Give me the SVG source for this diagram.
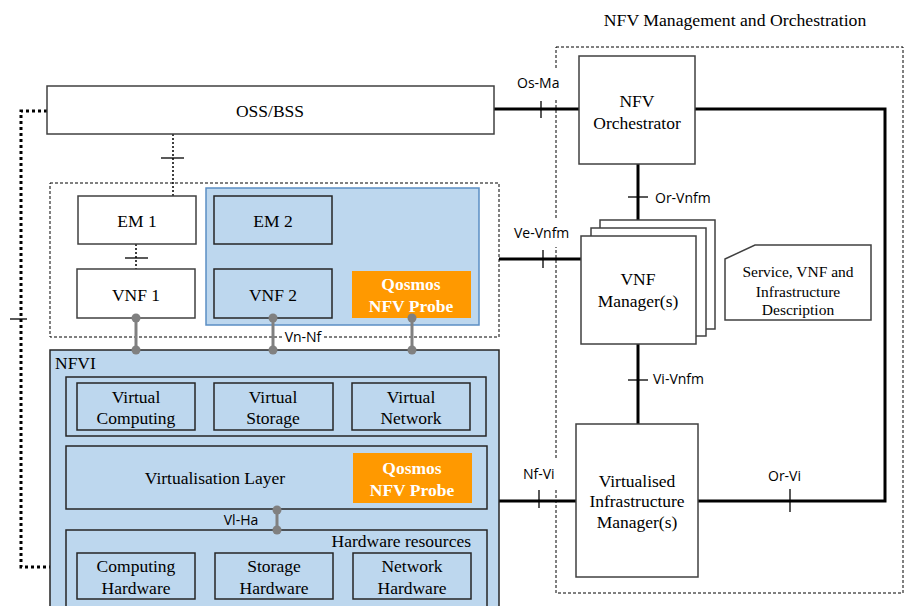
<svg xmlns="http://www.w3.org/2000/svg" width="907" height="606" viewBox="0 0 907 606">
<style>
.box{fill:#fff;stroke:#404040;stroke-width:1.5}
.bbox{fill:#bdd7ee;stroke:#262626;stroke-width:1.5}
.dash{fill:none;stroke:#000;stroke-width:1;stroke-dasharray:3,2}
.t{font-family:'Liberation Serif','Times New Roman',serif;font-size:17.5px;fill:#000;text-anchor:middle}
.d{font-family:'Liberation Serif','Times New Roman',serif;font-size:15.5px;fill:#000;text-anchor:middle}
.q{font-family:'Liberation Serif','Times New Roman',serif;font-size:17.5px;font-weight:bold;fill:#fff;text-anchor:middle}
.l{font-family:'Open Sans','DejaVu Sans',sans-serif;font-size:14px;fill:#000}
.thick{stroke:#000;stroke-width:3;fill:none}
.tick{stroke:#000;stroke-width:1.3}
.dot{stroke:#000;stroke-width:1.5;stroke-dasharray:2,2;fill:none}
.gray{stroke:#808080;stroke-width:3}
.gd{fill:#808080}
.probe{fill:#ff9900}
.bg{fill:#fff}
</style>

<text class="t" x="735" y="25.5" style="font-size:17.7px">NFV Management and Orchestration</text>
<rect class="dash" x="556" y="47" width="347" height="546"/>
<rect class="dash" x="50" y="183" width="449" height="154"/>

<g id="connectors">
  <polyline points="47,111 21,111 21,567 66,567" fill="none" stroke="#000" stroke-width="3" stroke-dasharray="3,3"/>
  <line class="tick" x1="10" y1="319" x2="27" y2="319"/>
  <line class="dot" x1="173" y1="134" x2="173" y2="196"/>
  <line class="tick" x1="161" y1="158" x2="184" y2="158"/>
  <line class="dot" x1="136" y1="244" x2="136" y2="269"/>
  <line class="tick" x1="125" y1="258" x2="148" y2="258"/>
  <line class="dot" x1="273" y1="244" x2="273" y2="269"/>
  <line class="tick" x1="262" y1="258" x2="285" y2="258"/>
  <rect class="bg" x="508" y="69" width="69" height="30"/>
  <text class="l" x="517" y="88">Os-Ma</text>
  <text class="l" x="768" y="480.5">Or-Vi</text>
  <text class="l" x="655" y="202.5">Or-Vnfm</text>
  <rect class="bg" x="508" y="219" width="69" height="28"/>
  <text class="l" x="514" y="238">Ve-Vnfm</text>
  <text class="l" x="653" y="384">Vi-Vnfm</text>
  <rect class="bg" x="513" y="460" width="54" height="28"/>
  <text class="l" x="523" y="479">Nf-Vi</text>
  <line class="thick" x1="494" y1="109" x2="579" y2="109"/>
  <line class="tick" x1="541" y1="101" x2="541" y2="118"/>
  <polyline class="thick" points="695,109 885,109 885,501 698,501"/>
  <line class="tick" x1="790" y1="489" x2="790" y2="512"/>
  <line class="thick" x1="638" y1="164" x2="638" y2="236"/>
  <line class="tick" x1="628" y1="197" x2="648" y2="197"/>
  <line class="thick" x1="499" y1="259" x2="581" y2="259"/>
  <line class="tick" x1="543" y1="250" x2="543" y2="268"/>
  <line class="thick" x1="638" y1="344" x2="638" y2="424"/>
  <line class="tick" x1="628" y1="380" x2="648" y2="380"/>
  <line class="thick" x1="499" y1="501" x2="576" y2="501"/>
  <line class="tick" x1="539" y1="490" x2="539" y2="508"/>
</g>

<g id="oss"><rect class="box" x="47" y="86" width="447" height="48"/><text class="t" x="270" y="117">OSS/BSS</text></g>

<g id="vnf2-region"><rect x="206" y="188" width="273" height="137" fill="#bdd7ee" stroke="#5b8ec4" stroke-width="1.5"/></g>
<g id="em1"><rect class="box" x="78" y="196" width="118" height="48"/><text class="t" x="137" y="227">EM 1</text></g>
<g id="vnf1"><rect class="box" x="77" y="269" width="118" height="49"/><text class="t" x="136" y="301">VNF 1</text></g>
<g id="em2"><rect class="bbox" x="214" y="196" width="118" height="48"/><text class="t" x="273" y="227">EM 2</text></g>
<g id="vnf2"><rect class="bbox" x="214" y="269" width="118" height="49"/><text class="t" x="273" y="301">VNF 2</text></g>
<g id="probe1"><rect class="probe" x="352" y="271" width="119" height="47"/><text class="q" x="411" y="290">Qosmos</text><text class="q" x="411" y="311.5">NFV Probe</text></g>

<g id="nfvi">
  <rect class="bbox" x="50" y="350" width="449" height="270"/>
  <text class="t" x="55" y="369" style="text-anchor:start">NFVI</text>
</g>
<g id="virtual-row"><rect class="bbox" x="66" y="377" width="420" height="59"/></g>
<g id="vcomp"><rect class="bbox" x="77" y="383" width="118" height="47"/><text class="t" x="136" y="403">Virtual</text><text class="t" x="136" y="424">Computing</text></g>
<g id="vstor"><rect class="bbox" x="214" y="383" width="119" height="47"/><text class="t" x="273" y="403">Virtual</text><text class="t" x="273" y="424">Storage</text></g>
<g id="vnet"><rect class="bbox" x="352" y="383" width="118" height="47"/><text class="t" x="411" y="403">Virtual</text><text class="t" x="411" y="424">Network</text></g>
<g id="vlayer"><rect class="bbox" x="66" y="446" width="421" height="63"/><text class="t" x="215" y="484">Virtualisation Layer</text></g>
<g id="probe2"><rect class="probe" x="353" y="453" width="119" height="50"/><text class="q" x="412" y="474">Qosmos</text><text class="q" x="412" y="495.5">NFV Probe</text></g>
<g id="hw"><rect class="bbox" x="66" y="530" width="421" height="90"/><text class="t" x="471" y="547" style="text-anchor:end">Hardware resources</text></g>
<g id="chw"><rect class="bbox" x="77" y="553" width="118" height="46"/><text class="t" x="136" y="571.5">Computing</text><text class="t" x="136" y="593.5">Hardware</text></g>
<g id="shw"><rect class="bbox" x="215" y="553" width="118" height="46"/><text class="t" x="274" y="571.5">Storage</text><text class="t" x="274" y="593.5">Hardware</text></g>
<g id="nhw"><rect class="bbox" x="353" y="553" width="118" height="46"/><text class="t" x="412" y="571.5">Network</text><text class="t" x="412" y="593.5">Hardware</text></g>

<g id="gray-connectors">
  <line class="gray" x1="136" y1="318" x2="136" y2="350"/><circle class="gd" cx="136" cy="318" r="4.5"/><circle class="gd" cx="136" cy="350" r="4.5"/>
  <line class="gray" x1="273" y1="318" x2="273" y2="350"/><circle class="gd" cx="273" cy="318" r="4.5"/><circle class="gd" cx="273" cy="350" r="4.5"/>
  <line class="gray" x1="412" y1="318" x2="412" y2="350"/><circle class="gd" cx="412" cy="318" r="4.5"/><circle class="gd" cx="412" cy="350" r="4.5"/>
  <rect x="282" y="330" width="42" height="14" fill="#fff"/>
  <line class="gray" x1="277" y1="510" x2="277" y2="530"/><circle class="gd" cx="277" cy="510" r="4.5"/><circle class="gd" cx="277" cy="530" r="4.5"/>
  <text class="l" x="303" y="342" text-anchor="middle">Vn-Nf</text>
  <text class="l" x="241" y="525" text-anchor="middle">Vl-Ha</text>
</g>

<g id="orchestrator"><rect class="box" x="579" y="56" width="116" height="108"/><text class="t" x="637" y="106.5">NFV</text><text class="t" x="637" y="128.5">Orchestrator</text></g>
<g id="vnfm">
  <rect class="box" x="600" y="220" width="115" height="109"/>
  <rect class="box" x="591" y="228" width="115" height="108"/>
  <rect class="box" x="581" y="236" width="115" height="108"/>
  <text class="t" x="638" y="285">VNF</text><text class="t" x="638" y="307">Manager(s)</text>
</g>
<g id="description"><path class="box" d="M725,259 L755,245 L871,245 L871,320 L725,320 Z"/><text class="d" x="798" y="276.5">Service, VNF and</text><text class="d" x="798" y="296.5">Infrastructure</text><text class="d" x="798" y="315">Description</text></g>
<g id="vim"><rect class="box" x="576" y="424" width="122" height="153"/><text class="t" x="637" y="486.5">Virtualised</text><text class="t" x="637" y="507">Infrastructure</text><text class="t" x="637" y="528">Manager(s)</text></g>
</svg>
